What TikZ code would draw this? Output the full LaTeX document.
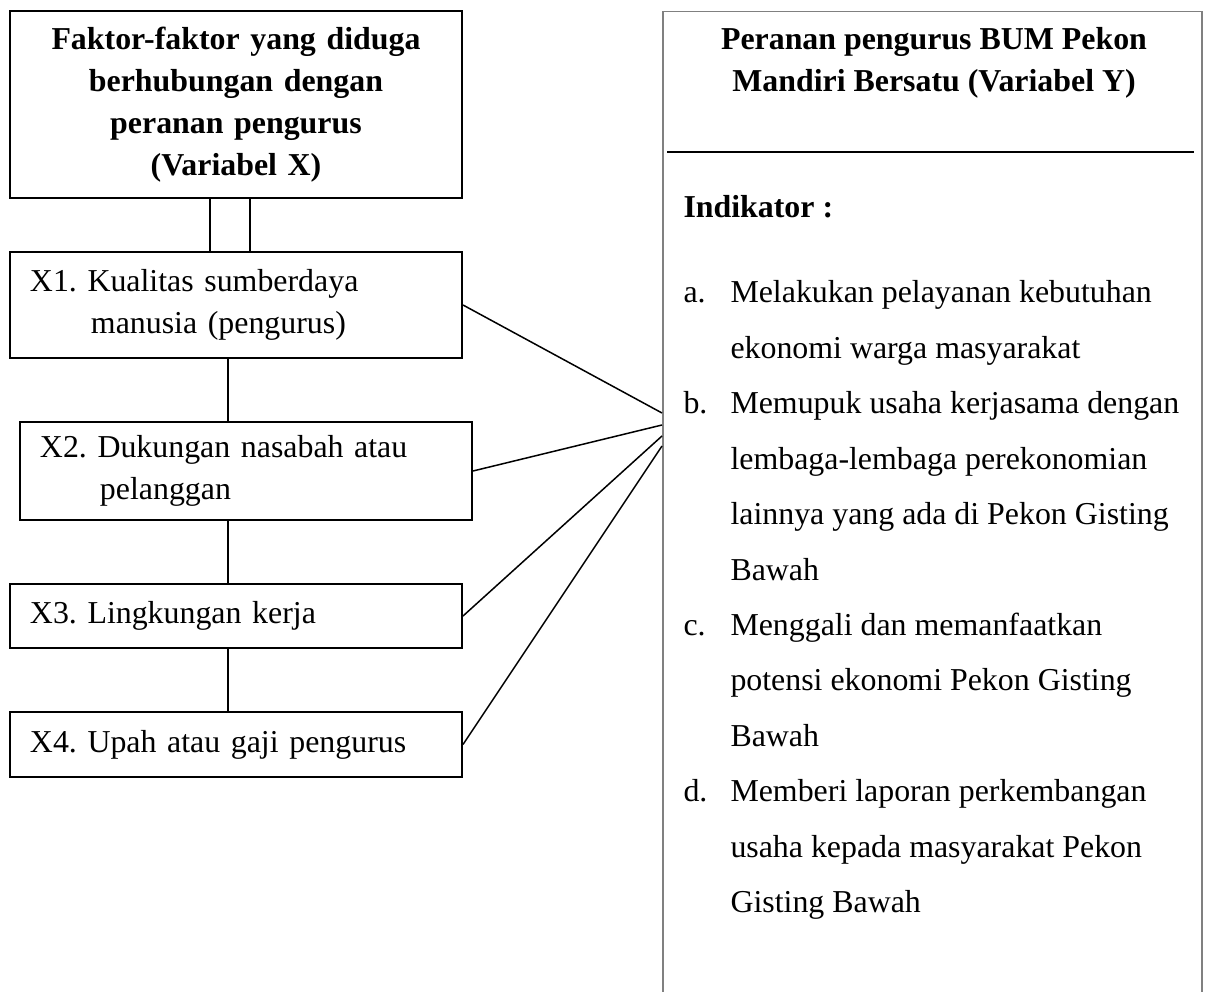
\documentclass[tikz,border=0pt]{standalone}
\usepackage{fontspec}
\setmainfont{Liberation Serif}
\frenchspacing
\usetikzlibrary{calc}

\begin{document}
\begin{tikzpicture}[x=0.4pt,y=-0.4pt,
    xbox/.style={draw,line width=0.8pt,inner xsep=8pt,inner ysep=0pt,
      text width=164.8pt,align=left,font=\fontsize{12.75}{16.8}\selectfont},
    txt/.style={anchor=base west,inner sep=0pt,font=\fontsize{12.75}{15}\selectfont},
    link/.style={line width=0.6pt}]
	\useasboundingbox (0,0) rectangle (1208,992);
	\clip (0,0) rectangle (1208,992);
	% variabel X
	\node[xbox,align=center,font=\bfseries\fontsize{12.75}{16.8}\selectfont,minimum height=74.8pt] (xtop) at (236,104.5)
		{Faktor-faktor yang diduga\\berhubungan dengan\\peranan pengurus\\(Variabel X)};
	\node[xbox,minimum height=42.4pt] (x1) at (236,305)
		{X1. Kualitas sumberdaya\\\hspace*{24.4pt}manusia (pengurus)};
	\node[xbox,minimum height=39.2pt] (x2) at (246,471)
		{X2. Dukungan nasabah atau\\\hspace*{24pt}pelanggan};
	\node[xbox,minimum height=25.6pt] (x3) at (236,616) {X3. Lingkungan kerja};
	\node[xbox,minimum height=26pt] (x4) at (236,744.5) {X4. Upah atau gaji pengurus};
	\coordinate (spine) at (228,0);
	\draw[link] ($(xtop.south)+(-26,0)$) -- ($(x1.north)+(-26,0)$);
	\draw[link] ($(xtop.south)+(14,0)$) -- ($(x1.north)+(14,0)$);
	\draw[link] (x1.south -| spine) -- (x2.north -| spine);
	\draw[link] (x2.south -| spine) -- (x3.north -| spine);
	\draw[link] (x3.south -| spine) -- (x4.north -| spine);
	% variabel Y
	\node[draw=gray,line width=0.6pt,anchor=north west,minimum width=215.6pt,minimum height=440pt] (ybox) at (662,11) {};
	\node[align=center,inner sep=0pt,font=\bfseries\fontsize{12.75}{16.8}\selectfont] (ytitle) at (934,63)
		{Peranan pengurus BUM Pekon\\Mandiri Bersatu (Variabel Y)};
	\draw[line width=0.8pt] (667,152) -- (1194,152);
	\node[txt,font=\bfseries\fontsize{12.75}{15}\selectfont] (indikator) at (683,218) {Indikator :};
	\foreach \t [count=\i] in {Melakukan pelayanan kebutuhan,ekonomi warga masyarakat,
		Memupuk usaha kerjasama dengan,lembaga-lembaga perekonomian,
		lainnya yang ada di Pekon Gisting,Bawah,Menggali dan memanfaatkan,
		potensi ekonomi Pekon Gisting,Bawah,Memberi laporan perkembangan,
		usaha kepada masyarakat Pekon,Gisting Bawah}{
		\node[txt] (ln\i) at (730,{303+55.4*(\i-1)}) {\t};
	}
	\foreach \l/\i in {a/1,b/3,c/7,d/10}{
		\node[txt] (lab\l) at (683,{303+55.4*(\i-1)}) {\l.};
	}
	% hubungan X -- Y
	\coordinate (h1) at (662,413);
	\coordinate (h2) at (662,425);
	\coordinate (h3) at (662,436);
	\coordinate (h4) at (662,446);
	\draw[link] (x1.east) -- (h1);
	\draw[link] (x2.east) -- (h2);
	\draw[link] (x3.east) -- (h3);
	\draw[link] (x4.east) -- (h4);
\end{tikzpicture}
\end{document}
